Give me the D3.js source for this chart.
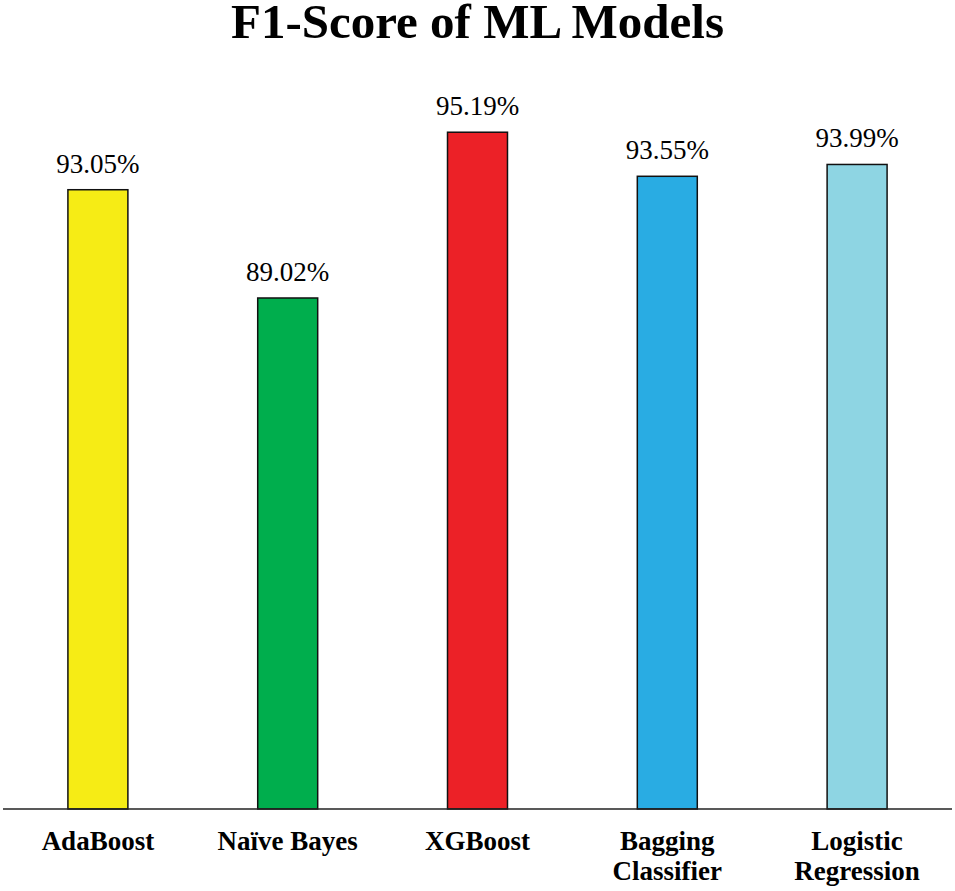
<!DOCTYPE html>
<html lang="en">
<head>
  <meta charset="UTF-8">
  <title>F1-Score of ML Models</title>
  <script src="https://d3js.org/d3.v7.min.js"></script>
  <style>
    html, body { margin: 0; padding: 0; background: #fff; }
    svg { display: block; }
  </style>
</head>
<body>
<svg width="955" height="891"></svg>
<script>
const models = ["AdaBoost", "Naïve Bayes", "XGBoost", "Bagging Classifier", "Logistic Regression"];
const labelLines = [["AdaBoost"], ["Naïve Bayes"], ["XGBoost"], ["Bagging", "Classifier"], ["Logistic", "Regression"]];
const f1 = [93.05, 89.02, 95.19, 93.55, 93.99];
const colors = ["#F6EC15", "#00AE4D", "#EC2127", "#29ACE3", "#8ED5E3"];

const SERIF = "'Liberation Serif', 'Times New Roman', Times, serif";
const svg = d3.select("svg");

const x = d3.scaleBand()
  .domain(models)
  .range([3, 952])
  .paddingInner(0.684)
  .paddingOuter(0.342);

const y = d3.scaleLinear().domain([70, 100]).range([809, 3]);

// title
svg.append("text")
  .attr("x", 477.5)
  .attr("y", 38)
  .attr("text-anchor", "middle")
  .attr("font-family", SERIF)
  .attr("font-size", 49)
  .attr("font-weight", "bold")
  .text("F1-Score of ML Models");

// bars
svg.selectAll("rect.bar")
  .data(models)
  .join("rect")
  .attr("class", "bar")
  .attr("x", d => x(d))
  .attr("width", x.bandwidth())
  .attr("y", (d, i) => y(f1[i]))
  .attr("height", (d, i) => y(70) - y(f1[i]))
  .attr("fill", (d, i) => colors[i])
  .attr("stroke", "#111")
  .attr("stroke-width", 1.5);

// value labels
svg.selectAll("text.val")
  .data(models)
  .join("text")
  .attr("class", "val")
  .attr("x", d => x(d) + x.bandwidth() / 2)
  .attr("y", (d, i) => y(f1[i]) - 17)
  .attr("text-anchor", "middle")
  .attr("font-family", SERIF)
  .attr("font-size", 27)
  .text((d, i) => f1[i].toFixed(2) + "%");

// x axis
const axis = svg.append("g")
  .attr("transform", `translate(0,${y(70)})`)
  .call(d3.axisBottom(x).tickSize(0).tickFormat(""));
axis.select(".domain").attr("stroke", "#222").attr("stroke-width", 1.5).attr("d", "M3,0H952");

// category labels
const cats = svg.selectAll("text.cat")
  .data(models)
  .join("text")
  .attr("class", "cat")
  .attr("x", d => x(d) + x.bandwidth() / 2)
  .attr("y", 850)
  .attr("text-anchor", "middle")
  .attr("font-family", SERIF)
  .attr("font-size", 27)
  .attr("font-weight", "bold");

cats.selectAll("tspan")
  .data((d, i) => labelLines[i])
  .join("tspan")
  .attr("x", function() { return this.parentNode.getAttribute("x"); })
  .attr("dy", (d, j) => j === 0 ? 0 : 30)
  .text(d => d);
</script>
</body>
</html>
